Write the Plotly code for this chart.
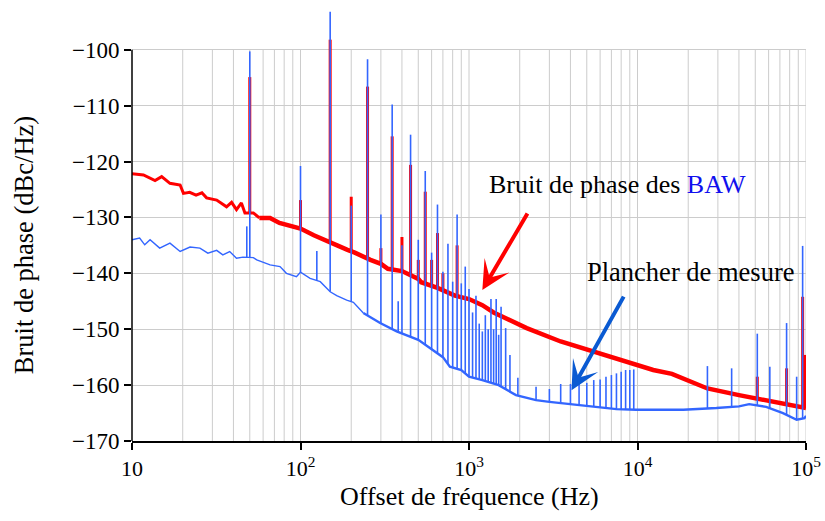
import numpy as np
import plotly.graph_objects as go

# ---- BAW phase noise (red): smooth trend, Hz / dBc/Hz ----
red_f = [10, 11.7, 13.7, 15, 16.8, 19.3, 20.2, 22, 24, 26, 27.7, 31.8, 36.4, 39, 41.7,
         44.6, 46.8, 52.5, 57, 66, 75, 82, 100, 120, 130, 165, 190, 210, 260, 300, 330,
         400, 500, 520, 650, 825, 1000, 1200, 1400, 2200, 3500, 5500, 8600, 10000,
         12400, 16000, 26000, 40000, 63000, 100000]
red_db = [-122.2, -122.4, -123.4, -122.7, -123.9, -124.2, -125.7, -125.5, -126.0, -125.6,
          -126.5, -126.9, -128.1, -127.3, -128.6, -127.4, -129.2, -129.2, -130.1, -130.1,
          -131.0, -131.3, -132.0, -133.2, -133.7, -135.0, -135.8, -136.3, -137.6, -138.3,
          -139.2, -139.6, -141.0, -141.6, -142.6, -144.0, -144.6, -145.7, -147.0, -149.8,
          -152.2, -154.0, -155.8, -156.4, -157.3, -158.0, -160.6, -161.8, -163.0, -164.1]

# spurs on the BAW measurement (frequency, peak level)
red_spur_f = [50, 100, 150, 200, 250, 300, 350, 400, 450, 500, 550, 600, 650, 700, 850,
              51400, 76700, 95500, 98500]
red_spur_db = [-104.9, -126.9, -98.2, -126.3, -106.6, -135.5, -115.5, -133.5, -120.6,
               -137.6, -125.4, -137.6, -132.8, -140.0, -135.0, -158.5, -157.0, -144.2, -154.6]

# ---- measurement floor (blue) ----
blue_f = [10, 11.1, 11.9, 12.8, 14.6, 16.8, 19.3, 22.1, 25.3, 28.2, 31.8, 34.6, 38, 41.7,
          45.6, 52.5, 55, 66, 75.6, 82.5, 94.6, 100, 114, 131, 150, 164, 188, 206, 236,
          297, 372, 500, 700, 770, 900, 1000, 1200, 1500, 1900, 2500, 3000, 3500, 4800,
          7500, 9800, 12000, 18700, 29400, 40000, 46000, 58000, 73000, 88000, 98000, 100000]
blue_db = [-134.0, -133.7, -134.9, -134.0, -135.5, -134.6, -136.1, -135.3, -135.5, -136.4,
           -135.9, -136.7, -136.1, -137.3, -137.1, -137.2, -137.6, -138.5, -138.8, -140.0,
           -140.6, -139.8, -140.9, -141.5, -143.3, -144.0, -144.8, -145.2, -147.1, -148.9,
           -150.4, -151.9, -155.0, -156.7, -157.3, -158.5, -159.1, -160.0, -161.8, -162.7,
           -163.0, -163.2, -163.7, -164.3, -164.4, -164.4, -164.4, -164.1, -163.8, -163.4,
           -163.9, -165.0, -166.2, -165.9, -165.5]

blue_spur_f = [48, 50, 100, 125, 150, 200, 250, 300, 350, 380, 400, 450, 500, 550, 600,
               650, 700, 750, 800, 850, 900, 950, 1000, 1050, 1100, 1150, 1200, 1250,
               1300, 1350, 1400, 1450, 1500, 1550, 1650, 1750, 1950, 2500, 3000, 3500,
               4000, 4500, 5000, 5500, 6000, 6500, 7000, 7500, 8000, 8500, 9000, 9500,
               26000, 36200, 51400, 61000, 76700, 88000, 95500]
blue_spur_db = [-131.6, -100.3, -120.8, -136.0, -93.2, -127.9, -101.7, -129.5, -109.8,
                -145.0, -135.0, -115.2, -134.0, -121.7, -136.3, -127.7, -139.7, -134.7,
                -141.5, -129.5, -141.8, -138.8, -142.8, -147.0, -144.0, -149.0, -150.4,
                -147.5, -150.0, -144.6, -150.0, -144.6, -151.0, -146.0, -149.8, -154.6,
                -158.7, -160.3, -160.7, -159.8, -159.8, -159.5, -159.6, -159.1, -159.0,
                -158.5, -158.2, -157.9, -157.6, -157.3, -157.3, -157.2, -156.6, -157.0,
                -150.8, -156.7, -148.9, -158.5, -135.1]

x_tickvals = [10, 100, 1000, 10000, 100000]
x_ticktext = ["10", "10<sup>2</sup>", "10<sup>3</sup>", "10<sup>4</sup>", "10<sup>5</sup>"]
y_tickvals = [-170, -160, -150, -140, -130, -120, -110, -100]
y_ticktext = ["\u2212" + str(-v) for v in y_tickvals]

RED = "#ff0000"
BLUE = "#3366ff"
FONT = "Liberation Serif"


def spur_segments(sf, sdb, base_f, base_db):
    """Vertical spur lines rising from the noise trend up to their peak."""
    lf = np.log10(base_f)
    xs, ys = [], []
    for f, top in zip(sf, sdb):
        foot = float(np.interp(np.log10(f), lf, base_db))
        xs += [f, f, None]
        ys += [foot, top, None]
    return xs, ys


def split(fs, vals, f_cut):
    """Low-frequency and high-frequency parts of a trend (sharing the junction point)."""
    i = next(k for k, f in enumerate(fs) if f >= f_cut)
    return (fs[:i + 1], vals[:i + 1]), (fs[i:], vals[i:])


fig = go.Figure()

# vertical grid (all decade sub-divisions), stopping at -100 dBc/Hz
gx, gy = [], []
for d in range(1, 5):
    for k in range(1, 10):
        f = k * 10 ** d
        if f == 10:
            continue
        gx += [f, f, None]
        gy += [y_tickvals[0], y_tickvals[-1], None]
gx += [1e5, 1e5, None]
gy += [y_tickvals[0], y_tickvals[-1], None]
fig.add_trace(go.Scatter(x=gx, y=gy, mode="lines", line=dict(color="#cccccc", width=1),
                         hoverinfo="skip", showlegend=False))

# BAW phase noise
rx, ry = spur_segments(red_spur_f, red_spur_db, red_f, red_db)
fig.add_trace(go.Scatter(x=rx, y=ry, mode="lines", line=dict(color=RED, width=3),
                         showlegend=False))
(rlf, rld), (rhf, rhd) = split(red_f, red_db, 57)
fig.add_trace(go.Scatter(x=rlf, y=rld, mode="lines", line=dict(color=RED, width=3),
                         showlegend=False))
fig.add_trace(go.Scatter(x=rhf, y=rhd, mode="lines", line=dict(color=RED, width=4.5),
                         showlegend=False))

# measurement floor
(blf, bld), (bhf, bhd) = split(blue_f, blue_db, 236)
fig.add_trace(go.Scatter(x=blf, y=bld, mode="lines", line=dict(color=BLUE, width=1.4),
                         showlegend=False))
fig.add_trace(go.Scatter(x=bhf, y=bhd, mode="lines", line=dict(color=BLUE, width=2.4),
                         showlegend=False))
bx, by = spur_segments(blue_spur_f, blue_spur_db, blue_f, blue_db)
fig.add_trace(go.Scatter(x=bx, y=by, mode="lines", line=dict(color=BLUE, width=1.6),
                         showlegend=False))

# left axis line, only over the graduated range
fig.add_shape(type="line", xref="paper", yref="y", x0=0, x1=0,
              y0=y_tickvals[0], y1=y_tickvals[-1], line=dict(color="black", width=1.5))

annotations = [
    dict(text="Bruit de phase (dBc/Hz)", xref="paper", yref="y", x=-0.159, y=-135,
         xanchor="center", yanchor="middle", textangle=-90, showarrow=False,
         font=dict(size=26.5)),
    dict(text="Offset de fréquence (Hz)", xref="paper", yref="paper", x=0.5, y=-0.128,
         xanchor="center", yanchor="middle", showarrow=False, font=dict(size=26)),
    dict(text="Bruit de phase des <span style='color:#1010ee'>BAW</span>",
         xref="paper", yref="y", x=0.7203, y=-124.2, xanchor="center", yanchor="middle",
         showarrow=False, font=dict(size=26)),
    dict(text="Plancher de mesure", xref="paper", yref="y", x=0.829, y=-139.7,
         xanchor="center", yanchor="middle", showarrow=False, font=dict(size=26.5)),
    dict(text="", xref="x", yref="y", x=np.log10(1200), y=-143.0, ax=46, ay=-78,
         axref="pixel", ayref="pixel", showarrow=True, arrowhead=3, arrowsize=1.2,
         arrowwidth=4, arrowcolor=RED),
    dict(text="", xref="x", yref="y", x=np.log10(4060), y=-160.9, ax=53, ay=-95,
         axref="pixel", ayref="pixel", showarrow=True, arrowhead=3, arrowsize=1.2,
         arrowwidth=4, arrowcolor="#0a5ad2"),
]

fig.update_layout(
    width=825, height=521,
    margin=dict(l=132, r=19, t=5, b=80),
    paper_bgcolor="white", plot_bgcolor="white",
    font=dict(family=FONT, color="black"),
    annotations=annotations,
    showlegend=False,
)
fig.update_xaxes(type="log", range=[1, 5], tickvals=x_tickvals, ticktext=x_ticktext,
                 showgrid=False, zeroline=False, showline=True, linecolor="black",
                 linewidth=1.5, ticks="outside", ticklen=7, tickwidth=1.5,
                 tickcolor="black", tickfont=dict(size=22, family=FONT))
fig.update_yaxes(range=[-170, -92], tickvals=y_tickvals, ticktext=y_ticktext,
                 showgrid=True, gridcolor="#cccccc", gridwidth=1, zeroline=False,
                 showline=False, ticks="outside", ticklen=7, tickwidth=1.5,
                 tickcolor="black", tickfont=dict(size=23, family=FONT))

fig.write_html("out.html")
